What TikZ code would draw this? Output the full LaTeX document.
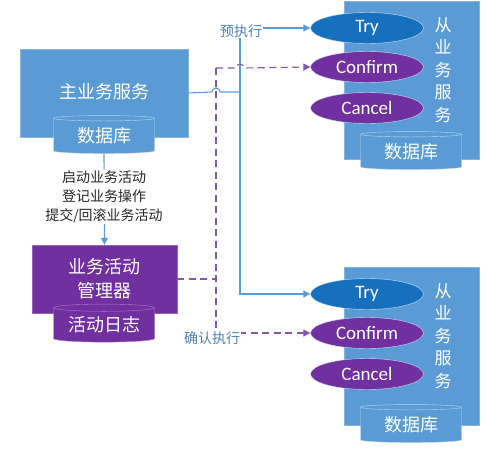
\documentclass[tikz,border=0pt]{standalone}
\usepackage{fontspec}
\setmainfont{Carlito}
\newfontfamily\cjk{Noto Sans CJK SC}
\usepackage{tikz}
\usetikzlibrary{shapes.geometric,arrows.meta}

\definecolor{svcblue}{HTML}{5B9BD5}
\definecolor{trybl}{HTML}{1670BE}
\definecolor{actpur}{HTML}{7030A0}
\definecolor{dashpur}{HTML}{8058B0}
\definecolor{lblblue}{HTML}{4F81B5}

\newcommand\bigcjk{\cjk\fontsize{18}{24}\selectfont}
\newcommand\smallcjk{\cjk\fontsize{14}{19}\selectfont}

\begin{document}
\begin{tikzpicture}[x=1pt,y=-1pt,>={Triangle[length=7pt,width=7pt]},
  svcbox/.style={fill=svcblue,draw=svcblue!75!white,text=white,font=\bigcjk},
  mgrbox/.style={fill=actpur,draw=actpur!75!white,text=white,font=\bigcjk,align=center},
  db/.style={cylinder,shape border rotate=90,aspect=0.1,draw=white!60!svcblue,
    minimum width=101pt,minimum height=38pt,inner sep=0pt,text=white,font=\bigcjk},
  op/.style={ellipse,draw=white!70!svcblue,text=white,minimum width=113pt,
    minimum height=31pt,inner sep=0pt,font=\fontsize{19}{22}\selectfont},
  conn/.style={svcblue,line width=1.1pt},
  dsh/.style={dashpur,line width=1.1pt,dash pattern=on 7pt off 4.5pt},
  lbl/.style={fill=white,text=lblblue,inner sep=1pt,font=\smallcjk}]
  \useasboundingbox (0,0) rectangle (489,453);

  % slave services
  \node[svcbox,minimum width=135pt,minimum height=158pt] (slave1) at (411.5,80) {};
  \node[svcbox,minimum width=135pt,minimum height=158pt] (slave2) at (411.5,346) {};
  \node[text=white,font=\cjk\fontsize{17}{22.5}\selectfont,align=center] (s1txt) at (443,70) {从\\业\\务\\服\\务};
  \node[text=white,font=\cjk\fontsize{17}{22.5}\selectfont,align=center] (s2txt) at (443,336) {从\\业\\务\\服\\务};
  \node[db,fill=svcblue] (sdb1) at (411,152) {数据库};
  \node[db,fill=svcblue] (sdb2) at (411,425) {数据库};
  \node[op,fill=trybl] (try1) at (367,28) {Try};
  \node[op,fill=actpur] (conf1) at (367,67) {Confirm};
  \node[op,fill=actpur] (canc1) at (367,108) {Cancel};
  \node[op,fill=trybl] (try2) at (367,294) {Try};
  \node[op,fill=actpur] (conf2) at (367,333) {Confirm};
  \node[op,fill=actpur] (canc2) at (367,374) {Cancel};

  % main service and activity manager
  \node[svcbox,minimum width=168pt,minimum height=88pt] (main) at (104,93) {};
  \node[text=white,font=\bigcjk] (maintxt) at (104,92) {主业务服务};
  \node[db,fill=svcblue] (maindb) at (104,136) {数据库};
  \node[mgrbox,minimum width=145pt,minimum height=68pt] (mgr) at (104.5,279) {业务活动\\管理器};
  \node[db,fill=actpur,draw=actpur!60!white] (log) at (104,325) {活动日志};

  \draw[conn,->] (maindb.south) -- (mgr.north);
  \node[fill=white,text=black!85,align=center,inner sep=1pt,font=\smallcjk] (ops) at (104,197)
    {启动业务活动\\登记业务操作\\提交/回滚业务活动};

  % try calls
  \coordinate (split) at (240,92);
  \coordinate (cup) at (216,68);
  \coordinate (cdn) at (216,333);
  \draw[conn] (main.east) -- ([xshift=-4pt]cup |- split) arc (180:0:4pt) -- (split);
  \draw[conn,->] (split) |- (try1.west);
  \draw[conn,->] (split) |- (try2.west);

  % confirm calls
  \draw[dsh] (mgr.east) -- (mgr.east -| cup);
  \draw[dsh] (cup) -- (cdn);
  \draw[dsh,->] (cup) -- ([xshift=-4pt]split |- cup) arc (180:0:4pt) -- (conf1.west);
  \draw[dsh,->] (cdn) -- (conf2.west);

  \node[lbl] (pre) at (241,31) {预执行};
  \node[lbl] (ack) at (212,338) {确认执行};
\end{tikzpicture}
\end{document}
